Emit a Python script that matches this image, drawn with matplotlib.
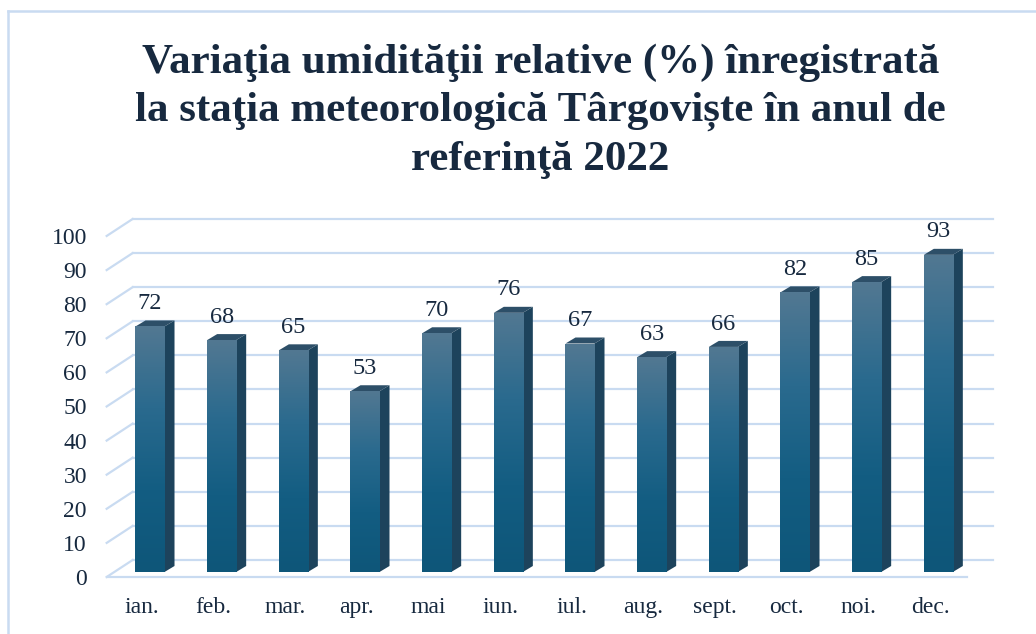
import numpy as np
import matplotlib
matplotlib.use('Agg')
import matplotlib.pyplot as plt
from matplotlib.patches import Polygon
from matplotlib.lines import Line2D
from matplotlib.colors import LinearSegmentedColormap

months = ['ian.', 'feb.', 'mar.', 'apr.', 'mai', 'iun.', 'iul.', 'aug.',
          'sept.', 'oct.', 'noi.', 'dec.']
humidity = [72, 68, 65, 53, 70, 76, 67, 63, 66, 82, 85, 93]
yticks = list(range(0, 101, 10))
title_lines = ['Variaţia umidităţii relative (%) înregistrată',
               'la staţia meteorologică Târgoviște în anul de',
               'referinţă 2022']

plt.rcParams['font.family'] = ['Liberation Serif', 'DejaVu Serif']
navy = '#17293f'
grid_c = '#c9dbf1'

fig = plt.figure(figsize=(10.36, 6.34), dpi=100)
ax = fig.add_axes([0.1102, 0.0978, 0.8301, 0.5379])

# pixel -> data unit factors (axes is fixed size)
px_x = 1 / 71.67
px_y = 1 / 3.41
back = (18.5 * px_x, 12 * px_y)
front = (-7.5 * px_x, -5 * px_y)
depth = (10 * px_x, 6 * px_y)
x0, x1 = -0.5, 11.5

# back wall gridlines + left wall slants
for v in yticks:
    ax.plot([x0 + back[0], x1 + back[0]], [v + back[1], v + back[1]],
            color=grid_c, lw=1.6, clip_on=False, zorder=1)
    ax.plot([x0 + front[0], x0 + back[0]], [v + front[1], v + back[1]],
            color=grid_c, lw=1.6, clip_on=False, zorder=1)
    ax.text(x0 - 0.38, v - 2.2, str(v), ha='right', va='center',
            fontsize=17, color=navy)
# floor front edge
ax.plot([x0 + front[0], x1 + front[0]], [front[1], front[1]],
        color=grid_c, lw=1.6, clip_on=False, zorder=1)

cmap = LinearSegmentedColormap.from_list(
    'bar', ['#0e5679', '#135d82', '#2a6a8e', '#527892'])
grad = np.linspace(0, 1, 256).reshape(-1, 1)
w = 0.405
x = np.arange(len(months))
bars = ax.bar(x, humidity, width=w, color='#1a5f84', zorder=3)
for xi, v, b in zip(x, humidity, bars):
    im = ax.imshow(grad, extent=[xi - w / 2, xi + w / 2, 0, v], origin='lower',
                   cmap=cmap, aspect='auto', zorder=4)
    im.set_clip_path(b)
    side = Polygon([(xi + w / 2, 0), (xi + w / 2 + depth[0], depth[1]),
                    (xi + w / 2 + depth[0], v + depth[1]), (xi + w / 2, v)],
                   closed=True, facecolor='#1d435c', edgecolor='none', zorder=2)
    ax.add_patch(side)
    top = Polygon([(xi - w / 2, v), (xi + w / 2, v),
                   (xi + w / 2 + depth[0], v + depth[1]),
                   (xi - w / 2 + depth[0], v + depth[1])],
                  closed=True, facecolor='#2d4f68', edgecolor='none', zorder=2)
    ax.add_patch(top)
    ax.text(xi, v + 6.7, str(v), ha='center', va='center', fontsize=17.5, color=navy)
    ax.text(xi + front[0] - 0.01, -10.3, months[xi], ha='center', va='center',
            fontsize=17, color=navy)

ax.set_xlim(x0, x1)
ax.set_ylim(0, 100)
ax.axis('off')

# title
for i, line in enumerate(title_lines):
    fig.text(0.5215, 1 - (63 + 48.5 * i) / 634, line, ha='center', va='center',
             fontsize=31, fontweight='bold', color=navy)

# chart area border (left and top only visible)
fig.add_artist(Line2D([8 / 1036, 8 / 1036], [0, 1 - 11 / 634],
                      transform=fig.transFigure, color='#c9dbf1', lw=1.8))
fig.add_artist(Line2D([8 / 1036, 1], [1 - 11 / 634, 1 - 11 / 634],
                      transform=fig.transFigure, color='#c9dbf1', lw=1.8))

fig.savefig('out.png', dpi=100)
